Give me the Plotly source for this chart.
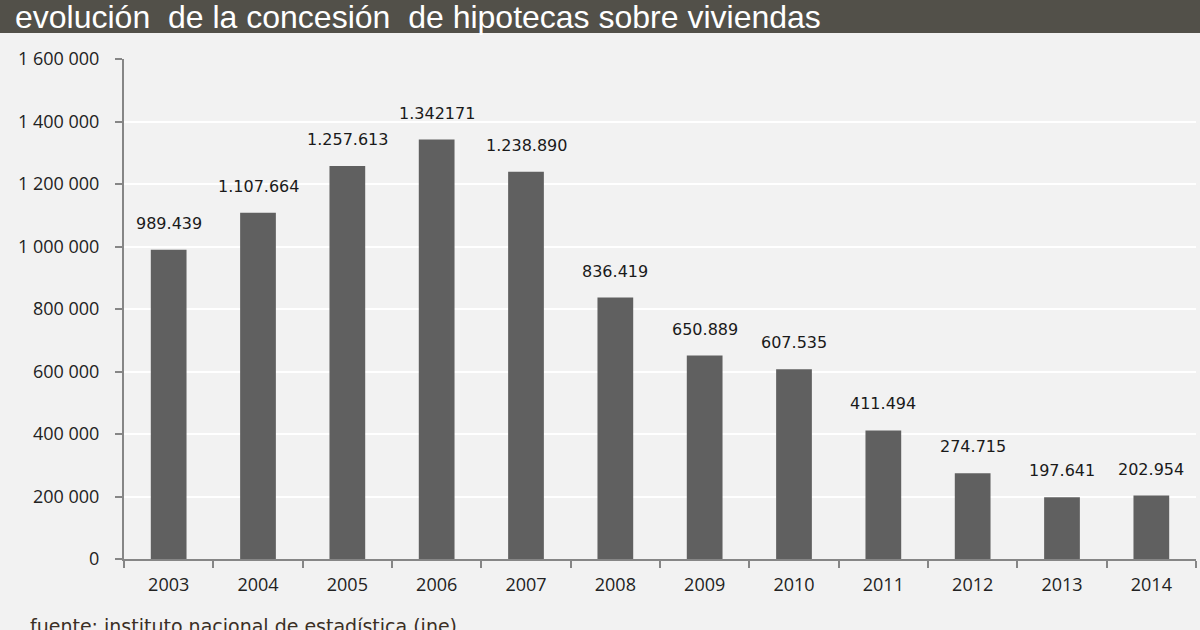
import plotly.graph_objects as go

years = ["2003", "2004", "2005", "2006", "2007", "2008", "2009", "2010", "2011", "2012", "2013", "2014"]
hipotecas = [989439, 1107664, 1257613, 1342171, 1238890, 836419, 650889, 607535, 411494, 274715, 197641, 202954]
labels = ["989.439", "1.107.664", "1.257.613", "1.342171", "1.238.890", "836.419", "650.889",
          "607.535", "411.494", "274.715", "197.641", "202.954"]
ytick_vals = [0, 200000, 400000, 600000, 800000, 1000000, 1200000, 1400000, 1600000]
ytick_text = ["0", "200 000", "400 000", "600 000", "800 000", "1 000 000", "1 200 000", "1 400 000", "1 600 000"]

title_text = "evolución\u00a0 de la concesión\u00a0 de hipotecas sobre viviendas"
source_text = "fuente: instituto nacional de estadística (ine)"

W, H = 1200, 630
ML, MR, MT, MB = 124, 4, 59, 71
PW, PH = W - ML - MR, H - MT - MB

fig = go.Figure()
fig.add_trace(go.Bar(
    x=years, y=hipotecas,
    marker=dict(color="#606060", line=dict(width=0)),
    hoverinfo="x+y",
))

annotations = []
for i, (v, t) in enumerate(zip(hipotecas, labels)):
    annotations.append(dict(
        x=i, y=v, xref="x", yref="y", text=t, showarrow=False,
        yanchor="bottom", xanchor="center", yshift=15,
        font=dict(family="DejaVu Sans", size=16, color="#1a1a1a"),
    ))

annotations.append(dict(
    x=(13 - ML) / PW, y=1 + (MT - 17) / PH, xref="paper", yref="paper",
    text=title_text, showarrow=False, xanchor="left", yanchor="middle",
    font=dict(family="Liberation Sans", size=32, color="#ffffff"),
))
annotations.append(dict(
    x=(28 - ML) / PW, y=-(626 - (MT + PH)) / PH, xref="paper", yref="paper",
    text=source_text, showarrow=False, xanchor="left", yanchor="middle",
    font=dict(family="DejaVu Sans", size=19, color="#3b2f25"),
))

fig.update_layout(
    width=W, height=H,
    margin=dict(l=ML, r=MR, t=MT, b=MB, pad=0),
    paper_bgcolor="#f2f2f2", plot_bgcolor="#f2f2f2",
    bargap=0.6, showlegend=False,
    annotations=annotations,
    shapes=[dict(
        type="rect", xref="paper", yref="paper",
        x0=-ML / PW - 0.01, x1=1 + MR / PW + 0.01,
        y0=1 + (MT - 33) / PH, y1=1 + (MT + 5) / PH,
        fillcolor="#525049", line=dict(width=0), layer="above",
    )],
    xaxis=dict(
        type="category", range=[-0.5, 11.5],
        showline=True, linecolor="#868686", linewidth=2,
        ticks="outside", tickson="boundaries", ticklen=7, tickcolor="#868686", tickwidth=2,
        showgrid=False, ticklabelstandoff=8,
        tickfont=dict(family="Open Sans", size=18, color="#222222"),
        fixedrange=True,
    ),
    yaxis=dict(
        range=[0, 1600000], tickvals=ytick_vals, ticktext=ytick_text,
        showline=True, linecolor="#868686", linewidth=2,
        ticks="outside", ticklen=7, tickcolor="#868686", tickwidth=2,
        showgrid=True, gridcolor="#ffffff", gridwidth=2, zeroline=False,
        ticklabelstandoff=12,
        tickfont=dict(family="Open Sans", size=18, color="#222222"),
        fixedrange=True,
    ),
)

fig.write_html("out.html", config={"displayModeBar": False},
               post_script="document.body.style.margin='0';document.body.style.overflow='hidden';")
